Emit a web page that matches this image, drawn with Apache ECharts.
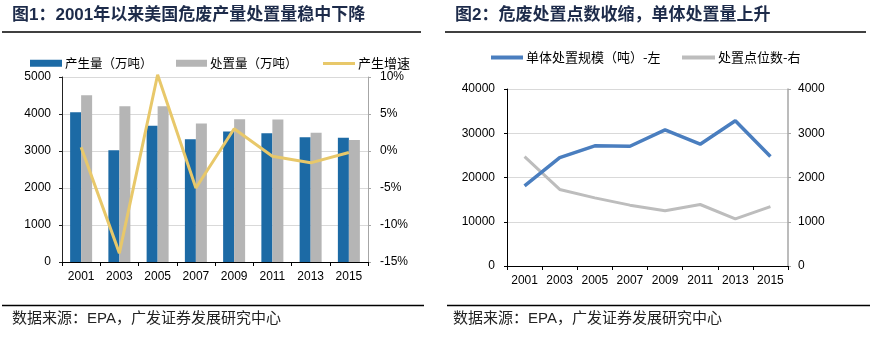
<!DOCTYPE html>
<html><head><meta charset="utf-8">
<script src="https://cdn.jsdelivr.net/npm/echarts@6/dist/echarts.min.js"></script>
<style>html,body{margin:0;padding:0;background:#fff}#c{width:876px;height:345px}</style>
</head><body><div id="c"></div>
<script>
var years = ['2001','2003','2005','2007','2009','2011','2013','2015'];
var production = [4050, 3020, 3680, 3320, 3530, 3480, 3370, 3360];
var disposal = [4510, 4210, 4210, 3740, 3860, 3850, 3490, 3300];
var growth = [0.5, -13.8, 10.3, -5.0, 3.0, -0.7, -1.6, -0.2];
var unitScale = [18100, 24500, 27150, 27070, 30780, 27520, 32820, 24730];
var sitesCount = [2470, 1730, 1540, 1375, 1250, 1390, 1066, 1340];
var leftYTicks = [0, 1000, 2000, 3000, 4000, 5000];
var pctTicks = [-15, -10, -5, 0, 5, 10];

var num = '"Liberation Sans", Arial, sans-serif';
var cjk = '"Noto Sans CJK SC", sans-serif';
var mix = '"Liberation Sans", "Noto Sans CJK SC", sans-serif';
var plain = function (v) { return String(v); };
var chart = echarts.init(document.getElementById('c'));
function legendItem(name, left, top, w, h, size) {
  return {data:[name], left:left, top:top, itemWidth:w, itemHeight:h, itemGap:0, icon:'rect',
    textStyle:{fontFamily:cjk, fontSize:size, color:'#000', padding:[0,0,0,-2]}, selectedMode:false, padding:0};
}
chart.setOption({
  animation:false,
  graphic:[
    {type:'text', left:12, top:7, style:{text:'图1：2001年以来美国危废产量处置量稳中下降', font:'bold 17px ' + mix, fill:'#1d2b4a'}},
    {type:'text', left:455, top:7, style:{text:'图2：危废处置点数收缩，单体处置量上升', font:'bold 17px ' + mix, fill:'#1d2b4a'}},
    {type:'line', shape:{x1:2,y1:32,x2:421,y2:32}, style:{stroke:'#000', lineWidth:1.5}},
    {type:'line', shape:{x1:445,y1:32,x2:866,y2:32}, style:{stroke:'#000', lineWidth:1.5}},
    {type:'line', shape:{x1:2,y1:305.5,x2:424,y2:305.5}, style:{stroke:'#000', lineWidth:1.5}},
    {type:'line', shape:{x1:447,y1:305.5,x2:870,y2:305.5}, style:{stroke:'#000', lineWidth:1.5}},
    {type:'text', left:12, top:311, style:{text:'数据来源：EPA，广发证券发展研究中心', font:'15px ' + mix, fill:'#222'}},
    {type:'text', left:453, top:311, style:{text:'数据来源：EPA，广发证券发展研究中心', font:'15px ' + mix, fill:'#222'}}
  ],
  legend:[
    legendItem('产生量（万吨）', 30, 57, 32, 7, 12.5),
    legendItem('处置量（万吨）', 176, 57, 31, 7, 12.5),
    legendItem('产生增速', 323, 57, 32, 3, 13),
    legendItem('单体处置规模（吨）-左', 491, 51, 32, 4, 13),
    legendItem('处置点位数-右', 682, 51, 33, 4, 13)
  ],
  grid:[
    {left:62, right:508, top:77, bottom:83},
    {left:507, right:88, top:89, bottom:79}
  ],
  xAxis:[
    {type:'category', gridIndex:0, data:years, boundaryGap:true,
     axisLine:{lineStyle:{color:'#000', width:1}}, axisTick:{show:true, length:4, lineStyle:{color:'#000'}},
     axisLabel:{fontFamily:num, fontSize:12, color:'#000', margin:9}},
    {type:'category', gridIndex:1, data:years, boundaryGap:true,
     axisLine:{lineStyle:{color:'#000', width:1}}, axisTick:{show:true, length:4, lineStyle:{color:'#000'}},
     axisLabel:{fontFamily:num, fontSize:12, color:'#000', margin:9}}
  ],
  yAxis:[
    {type:'value', gridIndex:0, min:leftYTicks[0], max:leftYTicks[leftYTicks.length-1], interval:1000,
     axisLine:{show:true, lineStyle:{color:'#222'}}, axisTick:{show:true, length:3, lineStyle:{color:'#222'}},
     splitLine:{lineStyle:{color:'#d9d9d9', width:1}},
     axisLabel:{fontFamily:num, fontSize:12, color:'#000', margin:11, formatter:plain}},
    {type:'value', gridIndex:0, position:'right', min:pctTicks[0], max:pctTicks[pctTicks.length-1], interval:5,
     axisLine:{show:true, lineStyle:{color:'#a6a6a6'}}, axisTick:{show:true, length:3, lineStyle:{color:'#a6a6a6'}},
     splitLine:{show:false},
     axisLabel:{fontFamily:num, fontSize:12, color:'#000', margin:12, formatter:function(v){return v + '%';}}},
    {type:'value', gridIndex:1, min:0, max:40000, interval:10000,
     axisLine:{show:true, lineStyle:{color:'#000'}}, axisTick:{show:true, length:3, lineStyle:{color:'#000'}},
     splitLine:{lineStyle:{color:'#d9d9d9', width:1}},
     axisLabel:{fontFamily:num, fontSize:12, color:'#000', margin:12, formatter:plain}},
    {type:'value', gridIndex:1, position:'right', min:0, max:4000, interval:1000,
     axisLine:{show:true, lineStyle:{color:'#a6a6a6', width:1.5}}, axisTick:{show:true, length:3, lineStyle:{color:'#a6a6a6'}},
     splitLine:{show:false},
     axisLabel:{fontFamily:num, fontSize:12, color:'#000', margin:10, formatter:plain}}
  ],
  series:[
    {name:'产生量（万吨）', type:'bar', xAxisIndex:0, yAxisIndex:0, data:production, barWidth:11, barGap:'0%',
     itemStyle:{color:'#1c6aa5'}},
    {name:'处置量（万吨）', type:'bar', xAxisIndex:0, yAxisIndex:0, data:disposal, barWidth:11, barGap:'0%',
     itemStyle:{color:'#b5b5b5'}},
    {name:'产生增速', type:'line', xAxisIndex:0, yAxisIndex:1, data:growth, showSymbol:false, symbol:'none', clip:false,
     lineStyle:{color:'#e8c86a', width:3}, itemStyle:{color:'#e8c86a'}, z:5},
    {name:'单体处置规模（吨）-左', type:'line', xAxisIndex:1, yAxisIndex:2, data:unitScale, showSymbol:false, symbol:'none',
     lineStyle:{color:'#4a7ebf', width:3.5}, itemStyle:{color:'#4a7ebf'}, z:5},
    {name:'处置点位数-右', type:'line', xAxisIndex:1, yAxisIndex:3, data:sitesCount, showSymbol:false, symbol:'none',
     lineStyle:{color:'#bdbdbd', width:3}, itemStyle:{color:'#bdbdbd'}, z:4}
  ]
});
</script></body></html>
